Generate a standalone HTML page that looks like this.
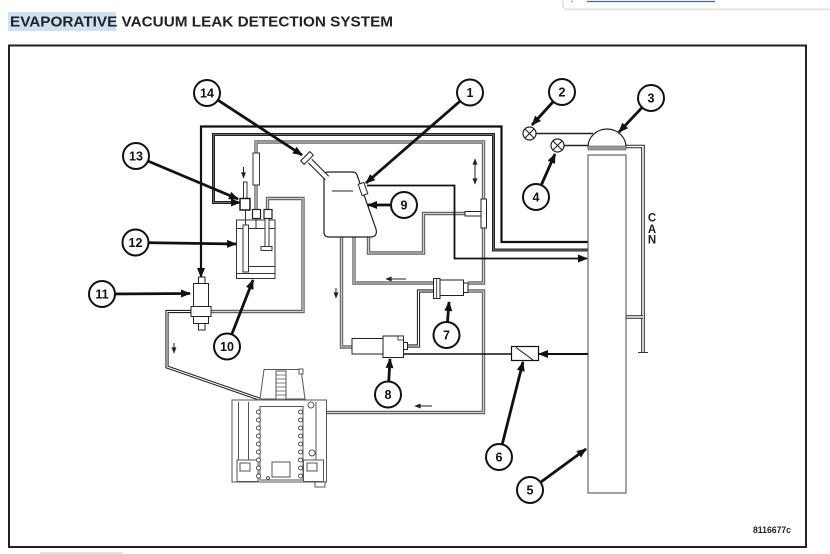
<!DOCTYPE html>
<html><head><meta charset="utf-8"><style>
html,body{margin:0;padding:0;background:#fff;width:830px;height:554px;overflow:hidden}
svg{position:absolute;left:0;top:0}
.g1{stroke:#666;stroke-width:3.4;fill:none}
.g2{stroke:#cfcfcf;stroke-width:1.1;fill:none}
.d1{stroke:#222;stroke-width:3.2;fill:none}
.d2{stroke:#fff;stroke-width:1.1;fill:none}
.ld{stroke:#111;stroke-width:2.8;fill:none}
.cc{fill:#fff;stroke:#111;stroke-width:2}
.ct{font-family:"Liberation Sans",Arial,sans-serif;font-weight:bold;font-size:12.5px;fill:#111;text-anchor:middle}
.en{stroke:#555;stroke-width:1;fill:#fff}
.fa{stroke:#222;stroke-width:1;fill:none}
</style></head><body>
<svg width="830" height="554" viewBox="0 0 830 554" xmlns="http://www.w3.org/2000/svg">
<defs>
<marker id="ah" viewBox="0 0 10 8" refX="9" refY="4" markerWidth="11" markerHeight="8" markerUnits="userSpaceOnUse" orient="auto"><path d="M0,0 L10,4 L0,8 z" fill="#111"/></marker>
<marker id="sa" viewBox="0 0 10 8" refX="9" refY="4" markerWidth="7" markerHeight="5" markerUnits="userSpaceOnUse" orient="auto"><path d="M0,0 L10,4 L0,8 z" fill="#222"/></marker>
<marker id="sb" viewBox="0 0 10 8" refX="1" refY="4" markerWidth="7" markerHeight="5" markerUnits="userSpaceOnUse" orient="auto"><path d="M10,0 L0,4 L10,8 z" fill="#222"/></marker>
<path id="p3" d="M256,153 L256,142 L483.5,142 L483.5,283 L468,283"/>
<path id="p3b" d="M256,185 L256,209"/>
<path id="pT" d="M465,213.5 L423.5,213.5 L423.5,253 L368.5,253 L368.5,237"/>
<path id="pA" d="M341.5,237 L341.5,347 L352,347"/>
<path id="pB" d="M354,237 L354,283 L433,283"/>
<path id="pC" d="M468,291 L483.5,291 L483.5,412.5 L304,412.5"/>
<path id="pR" d="M211,311.5 L303,311.5 L303,198.5 L267.5,198.5 L267.5,209.5"/>
<path id="dL" d="M193,311.5 L167,311.5 L167,367 L265,401"/>
<path id="d7" d="M433,291 L418.5,291 L418.5,346 L407,346"/>
<path id="dC" d="M626,146.5 L643,146.5 L643,352"/>
<path id="dC2" d="M626,317 L643,317"/>
<path id="l2" d="M588,250 L493.5,250 L493.5,134.5 L213.5,134.5 L213.5,202.5 L236,202.5"/>
</defs>

<!-- top-right popup remnant -->
<rect x="563" y="-6" width="280" height="15" rx="3" fill="#fff" stroke="#d0d0d0"/>
<line x1="564" y1="9.5" x2="830" y2="9.5" stroke="#e6e6e6" stroke-width="1.5"/>
<line x1="587" y1="1.5" x2="715" y2="1.5" stroke="#2a6cc0" stroke-width="1.2"/>
<circle cx="572" cy="1.5" r="1" fill="#aaa"/>

<!-- title -->
<rect x="8" y="12" width="108" height="19" fill="#cfe0f3"/>
<text x="10" y="26.5" font-family="Liberation Sans, Arial, sans-serif" font-weight="bold" font-size="15" fill="#222" textLength="383" lengthAdjust="spacingAndGlyphs">EVAPORATIVE VACUUM LEAK DETECTION SYSTEM</text>

<!-- frame -->
<rect x="9" y="45.5" width="797" height="501.5" fill="none" stroke="#222" stroke-width="2"/>
<rect x="40" y="552" width="83" height="3" fill="#e4e4e4"/>

<!-- gray lines -->
<use href="#p3" class="g1"/><use href="#p3" class="g2"/>
<use href="#p3b" class="g1"/><use href="#p3b" class="g2"/>
<use href="#pT" class="g1"/><use href="#pT" class="g2"/>
<use href="#pA" class="g1"/><use href="#pA" class="g2"/>
<use href="#pB" class="g1"/><use href="#pB" class="g2"/>
<use href="#pC" class="g1"/><use href="#pC" class="g2"/>
<use href="#pR" class="g1"/><use href="#pR" class="g2"/>
<!-- double black lines -->
<use href="#dL" class="d1"/><use href="#dL" class="d2"/>
<use href="#d7" class="d1"/><use href="#d7" class="d2"/>
<use href="#dC" class="d1" style="stroke-width:3.6"/><use href="#dC" class="d2" style="stroke-width:1.6"/>
<use href="#dC2" class="d1" style="stroke-width:3.6"/><use href="#dC2" class="d2" style="stroke-width:1.6"/>
<line x1="638" y1="352.5" x2="648" y2="352.5" stroke="#333" stroke-width="1"/>

<!-- black lines -->
<path d="M588,242 L501.5,242 L501.5,126.5 L201,126.5 L201,277" stroke="#111" stroke-width="2.2" fill="none" marker-end="url(#ah)"/>
<use href="#l2" stroke="#222" stroke-width="3" fill="none"/>
<use href="#l2" stroke="#888" stroke-width="0.7" fill="none"/>
<line x1="236" y1="202.5" x2="240" y2="202.5" stroke="#222" stroke-width="2.5" marker-end="url(#ah)"/>
<path d="M367,185.5 L454.5,185.5 L454.5,258.5 L587,258.5" stroke="#111" stroke-width="1.8" fill="none" marker-end="url(#ah)"/>
<line x1="403.5" y1="354" x2="511.5" y2="354" stroke="#111" stroke-width="1.5"/>
<line x1="588" y1="354" x2="539" y2="354" stroke="#111" stroke-width="2" marker-end="url(#ah)"/>

<!-- sleeve & blocks on 256 line -->
<rect x="253" y="153" width="6.5" height="32" fill="#fff" stroke="#333" stroke-width="1"/>
<!-- T fitting -->
<rect x="481" y="199" width="5.5" height="29" fill="#fff" stroke="#222" stroke-width="1"/>
<rect x="465" y="211.5" width="16" height="4.5" fill="#fff" stroke="#222" stroke-width="1"/>

<!-- flow arrows -->
<line x1="475" y1="159" x2="475" y2="184" class="fa" marker-start="url(#sb)" marker-end="url(#sa)"/>
<line x1="406" y1="279" x2="386" y2="279" class="fa" marker-end="url(#sa)"/>
<line x1="336" y1="288" x2="336" y2="298" class="fa" marker-end="url(#sa)"/>
<line x1="174" y1="343" x2="174" y2="353" class="fa" marker-end="url(#sa)"/>
<line x1="432" y1="406" x2="415" y2="406" class="fa" marker-end="url(#sa)"/>
<line x1="243.5" y1="167" x2="243.5" y2="178" class="fa" marker-end="url(#sa)"/>

<!-- tank -->
<path d="M328,172 L353,172 Q356,172 357,175 L376,229 Q378,237 370,237 L329,237 Q324,237 324,232 L324,177 Q324,172 328,172 Z" fill="#fff" stroke="#222" stroke-width="1.2"/>
<line x1="332" y1="191" x2="353" y2="191" stroke="#222" stroke-width="1"/>
<line x1="310" y1="161" x2="327" y2="178" stroke="#222" stroke-width="6"/>
<line x1="309" y1="160" x2="328" y2="179" stroke="#fff" stroke-width="3.8"/>
<rect x="-6.5" y="-2.5" width="13" height="5" fill="#fff" stroke="#222" stroke-width="1" transform="translate(307,158) rotate(-45)"/>
<rect x="-3" y="-6" width="6" height="12" fill="#fff" stroke="#222" stroke-width="1" transform="translate(363,189) rotate(-19)"/>

<!-- component 7 -->
<rect x="433.5" y="278.5" width="6.5" height="20" fill="#fff" stroke="#222" stroke-width="1"/>
<line x1="436.7" y1="279" x2="436.7" y2="298" stroke="#222" stroke-width="0.8"/>
<rect x="440" y="280" width="23.5" height="15.5" fill="#fff" stroke="#222" stroke-width="1"/>
<rect x="463.5" y="283" width="4.5" height="9.5" fill="#fff" stroke="#222" stroke-width="1"/>

<!-- component 8 -->
<rect x="352" y="338.5" width="31" height="15.5" fill="#fff" stroke="#222" stroke-width="1"/>
<rect x="383" y="336" width="20.5" height="21.5" fill="#fff" stroke="#222" stroke-width="1"/>
<rect x="403.5" y="342.5" width="4" height="7" fill="#fff" stroke="#222" stroke-width="1"/>
<rect x="398" y="336" width="5.5" height="4" fill="#fff" stroke="#222" stroke-width="0.8"/>

<!-- component 6 -->
<rect x="511.5" y="346.5" width="27" height="14" fill="#fff" stroke="#111" stroke-width="1.2"/>
<line x1="516" y1="347.5" x2="533" y2="360" stroke="#111" stroke-width="1"/>

<!-- valve 11 -->
<g fill="#fff" stroke="#222" stroke-width="1">
<rect x="198.5" y="277" width="6.5" height="6.5"/>
<rect x="193.5" y="283.5" width="15" height="23"/>
<rect x="191" y="306.5" width="20" height="10"/>
<rect x="193.5" y="316.5" width="15" height="7"/>
<rect x="198.5" y="323.5" width="6.5" height="6.5"/>
</g>

<!-- component 12 -->
<g fill="#fff" stroke="#333" stroke-width="1">
<rect x="236.5" y="220" width="38.5" height="58.5"/>
<line x1="236.5" y1="228.5" x2="275" y2="228.5"/>
<rect x="243" y="225" width="5.5" height="47"/>
<line x1="248.5" y1="266.5" x2="275" y2="266.5"/>
<line x1="236.5" y1="273.5" x2="275" y2="273.5"/>
<rect x="265" y="218" width="4" height="29"/>
<rect x="261" y="246.5" width="11" height="4"/>
<line x1="245.5" y1="210" x2="245.5" y2="225"/>
<line x1="256" y1="218.5" x2="256" y2="228"/>
</g>
<rect x="243.5" y="182" width="3.5" height="16.5" fill="#fff" stroke="#333" stroke-width="1"/>
<rect x="240" y="198.5" width="10" height="11.5" fill="#fff" stroke="#111" stroke-width="1.4"/>
<rect x="252.5" y="209.5" width="8" height="9" fill="#fff" stroke="#222" stroke-width="1.2"/>
<rect x="264" y="209.5" width="8" height="9" fill="#fff" stroke="#222" stroke-width="1.2"/>

<!-- engine / module -->
<g class="en">
<path d="M264,369.5 L301,369.5 L305,399 L260,399 Z"/>
<rect x="299" y="369" width="4" height="5"/>
<rect x="276" y="371" width="10" height="32"/>
<rect x="232" y="400" width="94.5" height="82"/>
<rect x="260" y="406.5" width="43" height="73.5"/>
<line x1="238.5" y1="402" x2="238.5" y2="460"/>
<line x1="248.5" y1="402" x2="248.5" y2="460"/>
<line x1="316" y1="402" x2="316" y2="460"/>
<rect x="237" y="460" width="21" height="21.5"/>
<rect x="303.5" y="460" width="20" height="21.5"/>
<rect x="240" y="463" width="10" height="8"/>
<rect x="307" y="463" width="10" height="8"/>
<rect x="272" y="462" width="18" height="15"/>
<circle cx="311" cy="405" r="3"/>
<circle cx="312" cy="453" r="3"/>
<rect x="315" y="482" width="10" height="5"/>
<circle cx="268" cy="478" r="1.5"/>
</g>
<g stroke="#555" stroke-width="0.8" fill="none">
<path d="M276,375 h10 M276,379 h10 M276,383 h10 M276,387 h10 M276,391 h10 M276,395 h10 M276,399 h10"/>
</g>
<g fill="#fff" stroke="#444" stroke-width="0.9">
<circle cx="258.5" cy="412" r="2"/><circle cx="258.5" cy="420" r="2"/><circle cx="258.5" cy="428" r="2"/><circle cx="258.5" cy="436" r="2"/><circle cx="258.5" cy="444" r="2"/><circle cx="258.5" cy="452" r="2"/><circle cx="258.5" cy="460" r="2"/><circle cx="258.5" cy="468" r="2"/><circle cx="258.5" cy="476" r="2"/>
<circle cx="300.5" cy="412" r="2"/><circle cx="300.5" cy="420" r="2"/><circle cx="300.5" cy="428" r="2"/><circle cx="300.5" cy="436" r="2"/><circle cx="300.5" cy="444" r="2"/><circle cx="300.5" cy="452" r="2"/><circle cx="300.5" cy="460" r="2"/><circle cx="300.5" cy="468" r="2"/><circle cx="300.5" cy="476" r="2"/>
</g>

<!-- lamps and canister -->
<line x1="536" y1="133.5" x2="593" y2="133.5" stroke="#222" stroke-width="1.5"/>
<line x1="564" y1="145.5" x2="588" y2="145.5" stroke="#222" stroke-width="1.5"/>
<g fill="#fff" stroke="#222" stroke-width="1.2">
<circle cx="529.5" cy="133.5" r="6.5"/>
<circle cx="557.5" cy="145.5" r="6.5"/>
</g>
<path d="M525,129 L534,138 M534,129 L525,138 M553,141 L562,150 M562,141 L553,150" stroke="#222" stroke-width="1.1"/>
<path d="M588,147 A19,18 0 0 1 626,147 Z" fill="#fff" stroke="#222" stroke-width="1.2"/>
<rect x="588" y="146" width="38" height="4" fill="#9a9a9a" stroke="#555" stroke-width="0.6"/>
<rect x="588" y="155" width="38" height="338" fill="#fff" stroke="#444" stroke-width="1"/>
<g font-family="Liberation Sans, Arial, sans-serif" font-weight="bold" font-size="11.5" fill="#222" text-anchor="middle">
<text x="652" y="221.5">C</text><text x="652" y="233">A</text><text x="652" y="243.5">N</text>
</g>

<!-- leaders -->
<g class="ld" marker-end="url(#ah)">
<line x1="470" y1="92.5" x2="366" y2="183"/>
<line x1="562" y1="92" x2="532" y2="125"/>
<line x1="651" y1="98" x2="619" y2="132"/>
<line x1="536" y1="197" x2="555" y2="154"/>
<line x1="530" y1="490" x2="586" y2="449"/>
<line x1="499" y1="457" x2="523" y2="362"/>
<line x1="446.5" y1="335" x2="449" y2="302"/>
<line x1="388" y1="394.5" x2="390" y2="359"/>
<line x1="404" y1="205" x2="368" y2="205"/>
<line x1="227" y1="346.5" x2="253" y2="280"/>
<line x1="102" y1="294" x2="190" y2="293.5"/>
<line x1="135.5" y1="242.5" x2="236" y2="244"/>
<line x1="136" y1="156" x2="238" y2="199"/>
<line x1="207" y1="93" x2="302" y2="155"/>
</g>

<!-- callouts -->
<g>
<circle class="cc" cx="470" cy="92.5" r="13"/><text class="ct" x="470" y="97">1</text>
<circle class="cc" cx="562" cy="92" r="13"/><text class="ct" x="562" y="96.5">2</text>
<circle class="cc" cx="651" cy="98" r="13"/><text class="ct" x="651" y="102.5">3</text>
<circle class="cc" cx="536" cy="197" r="13"/><text class="ct" x="536" y="201.5">4</text>
<circle class="cc" cx="530" cy="490" r="13"/><text class="ct" x="530" y="494.5">5</text>
<circle class="cc" cx="499" cy="457" r="13"/><text class="ct" x="499" y="461.5">6</text>
<circle class="cc" cx="446.5" cy="335" r="13"/><text class="ct" x="446.5" y="339.5">7</text>
<circle class="cc" cx="388" cy="394.5" r="13"/><text class="ct" x="388" y="399">8</text>
<circle class="cc" cx="404" cy="205" r="13"/><text class="ct" x="404" y="209.5">9</text>
<circle class="cc" cx="227" cy="346.5" r="13"/><text class="ct" x="227" y="351">10</text>
<circle class="cc" cx="102" cy="294" r="13"/><text class="ct" x="102" y="298.5">11</text>
<circle class="cc" cx="135.5" cy="242.5" r="13"/><text class="ct" x="135.5" y="247">12</text>
<circle class="cc" cx="136" cy="156" r="13"/><text class="ct" x="136" y="160.5">13</text>
<circle class="cc" cx="207" cy="93" r="13"/><text class="ct" x="207" y="97.5">14</text>
</g>

<text x="753" y="533" font-family="Liberation Sans, Arial, sans-serif" font-weight="bold" font-size="9.5" fill="#222" textLength="38" lengthAdjust="spacingAndGlyphs">8116677c</text>
</svg>
</body></html>
